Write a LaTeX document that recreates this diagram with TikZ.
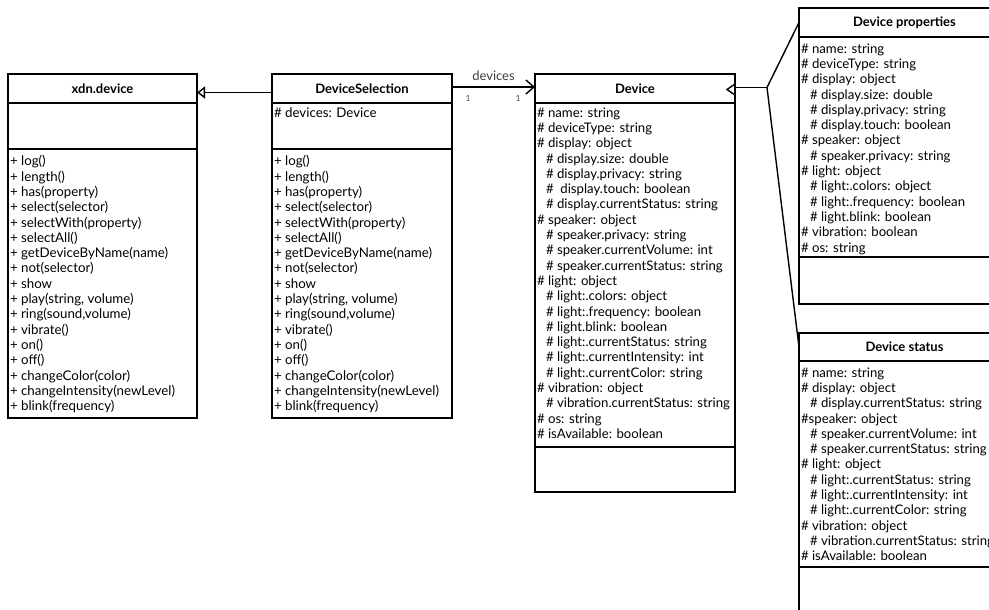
\documentclass[tikz,border=0pt]{standalone}
\usepackage{fontspec}
\setmainfont{Lato}
\usetikzlibrary{arrows.meta}

\begin{document}
\begin{tikzpicture}[x=1pt,y=-1pt,line width=1.4pt,
  part/.style={draw,rectangle,inner sep=0pt,outer sep=0pt,anchor=north west},
  hdr/.style={part,font=\fontsize{13}{15}\selectfont\bfseries},
  ops/.style={inner sep=0pt,outer sep=0pt,anchor=north west,align=left,font=\fontsize{13.3}{15.3}\selectfont},
  attrs/.style={inner sep=0pt,outer sep=0pt,anchor=north west,align=left,font=\fontsize{13.2}{15.3}\selectfont},
  mult/.style={inner sep=0pt,font=\fontsize{8.5}{10}\selectfont,text=black!70}]
\newcommand{\ii}{\hspace*{9pt}}
\useasboundingbox (0,0) rectangle (989,610);
\clip (0,0) rectangle (989,610);
\fill[white] (0,0) rectangle (989,610);

% xdn.device
\node[hdr,minimum width=189pt,minimum height=29pt] (xdn) at (8,74) {xdn.device};
\node[part,minimum width=189pt,minimum height=46pt] (xdnA) at (xdn.south west) {};
\node[part,minimum width=189pt,minimum height=269pt] (xdnM) at (xdnA.south west) {};
\node[ops] (xdnT) at (10,155.5) {+ log()\\+ length()\\+ has(property)\\+ select(selector)\\+ selectWith(property)\\+ selectAll()\\+ getDeviceByName(name)\\+ not(selector)\\+ show\\+ play(string, volume)\\+ ring(sound,volume)\\+ vibrate()\\+ on()\\+ off()\\+ changeColor(color)\\+ changeIntensity(newLevel)\\+ blink(frequency)};

% DeviceSelection
\node[hdr,minimum width=180pt,minimum height=29pt] (sel) at (272,74) {DeviceSelection};
\node[part,minimum width=180pt,minimum height=46pt] (selA) at (sel.south west) {};
\node[part,minimum width=180pt,minimum height=269pt] (selM) at (selA.south west) {};
\node[ops] (selAT) at (274,107.5) {\# devices: Device};
\node[ops] (selT) at (274,155.5) {+ log()\\+ length()\\+ has(property)\\+ select(selector)\\+ selectWith(property)\\+ selectAll()\\+ getDeviceByName(name)\\+ not(selector)\\+ show\\+ play(string, volume)\\+ ring(sound,volume)\\+ vibrate()\\+ on()\\+ off()\\+ changeColor(color)\\+ changeIntensity(newLevel)\\+ blink(frequency)};

% Device
\node[hdr,minimum width=200pt,minimum height=29pt] (dev) at (535,74) {Device};
\node[part,minimum width=200pt,minimum height=344pt] (devA) at (dev.south west) {};
\node[part,minimum width=200pt,minimum height=45pt] (devM) at (devA.south west) {};
\node[attrs] (devT) at (537,107.5) {\# name: string\\\# deviceType: string\\\# display: object\\\ii\# display.size: double\\\ii\# display.privacy: string\\\ii\#~ display.touch: boolean\\\ii\# display.currentStatus: string\\\# speaker: object\\\ii\# speaker.privacy: string\\\ii\# speaker.currentVolume: int\\\ii\# speaker.currentStatus: string\\\# light: object\\\ii\# light:.colors: object\\\ii\# light:.frequency: boolean\\\ii\# light.blink: boolean\\\ii\# light:.currentStatus: string\\\ii\# light:.currentIntensity: int\\\ii\# light:.currentColor: string\\\# vibration: object\\\ii\# vibration.currentStatus: string\\\# os: string\\\# isAvailable: boolean};

% Device properties
\node[hdr,minimum width=211pt,minimum height=29pt] (prop) at (799,8) {Device properties};
\node[part,minimum width=211pt,minimum height=220pt] (propA) at (prop.south west) {};
\node[part,minimum width=211pt,minimum height=47pt] (propM) at (propA.south west) {};
\node[attrs] (propT) at (801,43.5) {\# name: string\\\# deviceType: string\\\# display: object\\\ii\# display.size: double\\\ii\# display.privacy: string\\\ii\# display.touch: boolean\\\# speaker: object\\\ii\# speaker.privacy: string\\\# light: object\\\ii\# light:.colors: object\\\ii\# light:.frequency: boolean\\\ii\# light.blink: boolean\\\# vibration: boolean\\\# os: string};

% Device status
\node[hdr,minimum width=211pt,minimum height=28pt] (stat) at (799,333) {Device status};
\node[part,minimum width=211pt,minimum height=206pt] (statA) at (stat.south west) {};
\node[part,minimum width=211pt,minimum height=60pt] (statM) at (statA.south west) {};
\node[attrs] (statT) at (801,367.5) {\# name: string\\\# display: object\\\ii\# display.currentStatus: string\\\#speaker: object\\\ii\# speaker.currentVolume: int\\\ii\# speaker.currentStatus: string\\\# light: object\\\ii\# light:.currentStatus: string\\\ii\# light:.currentIntensity: int\\\ii\# light:.currentColor: string\\\# vibration: object\\\ii\# vibration.currentStatus: string\\\# isAvailable: boolean};

% generalisation DeviceSelection -> xdn.device
\draw[-{Triangle[open,length=8pt,width=12pt]}] ([yshift=-4pt]sel.west) -- ([yshift=-4pt]xdn.east);

% association DeviceSelection -> Device
\draw[-{Straight Barb[length=8pt,width=14pt]}] ([yshift=1.5pt]sel.east) -- ([yshift=1.5pt]dev.west)
  node[midway,above=2pt,font=\fontsize{13}{15}\selectfont,text=black!75] (lbl) {devices};
\node[mult] (m1) at (468,98) {1};
\node[mult] (m2) at (518,98) {1};

% Device -> properties / status
\coordinate (jn) at (767,87.5);
\draw ([yshift=1pt]dev.east) -- (jn);
\draw (jn) -- (prop.west);
\draw (jn) -- (stat.west);
\draw ([shift={(0,-4.5)}]dev.east) -- ([shift={(-8,1)}]dev.east) -- ([shift={(0,6.5)}]dev.east);
\end{tikzpicture}
\end{document}
